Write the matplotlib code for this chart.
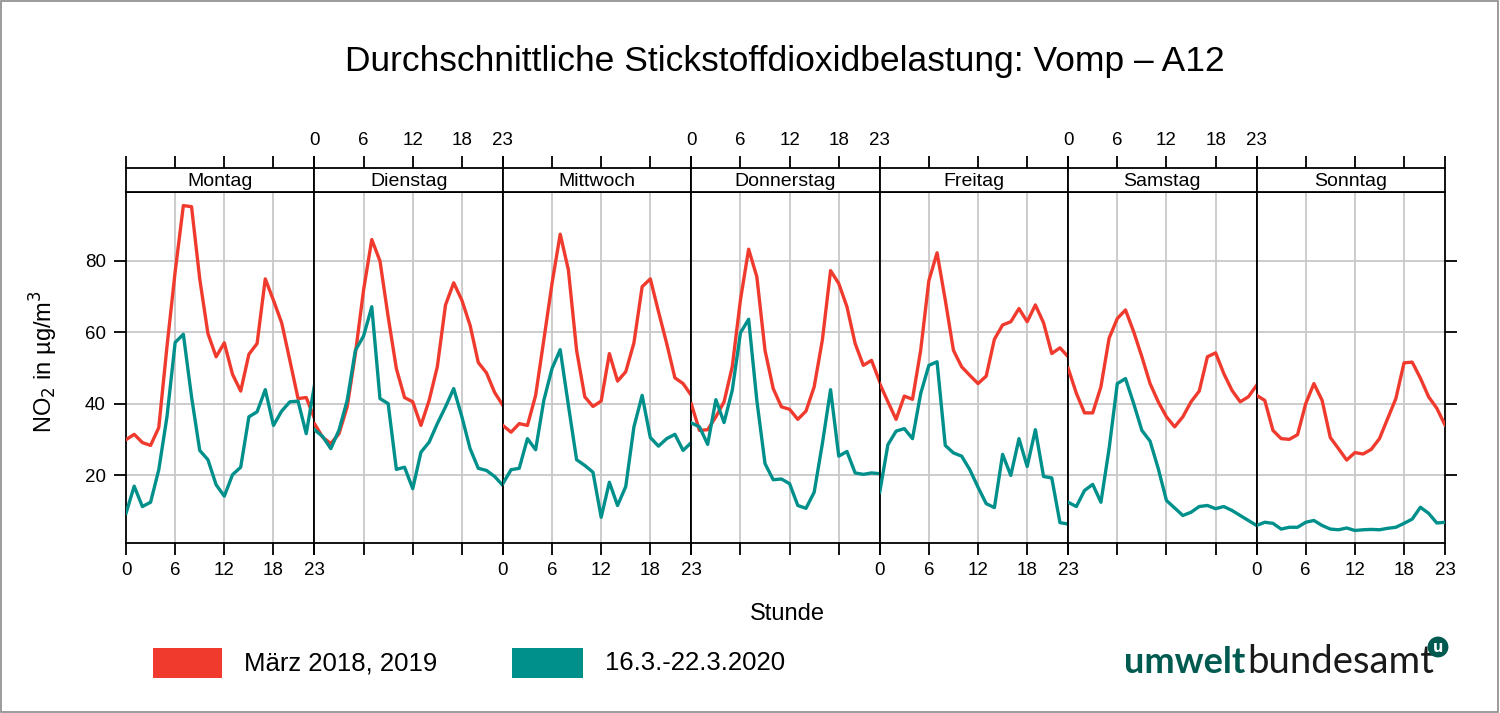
import matplotlib
matplotlib.use('Agg')
import matplotlib.pyplot as plt
from matplotlib.patches import Rectangle

plt.rcParams['font.family'] = ['Liberation Sans', 'DejaVu Sans']

tage = ['Montag', 'Dienstag', 'Mittwoch', 'Donnerstag', 'Freitag', 'Samstag', 'Sonntag']
stunden = list(range(24))
xticks = [0, 6, 12, 18, 23]
yticks = [20, 40, 60, 80]

# NO2 Stundenmittel je Wochentag
maerz_2018_2019 = [
    [30, 31.5, 29.2, 28.4, 33.4, 56, 77, 95.5, 95.2, 75, 59.7, 53.2, 57.1, 48.3, 43.6, 53.9, 56.9, 75, 69, 62.7, 52.2, 41.5, 41.8, 36],
    [34.5, 30.7, 28.9, 31.7, 39.2, 54.1, 71.9, 86, 80, 64.4, 49.9, 41.8, 40.6, 34, 41, 50.4, 67.7, 73.9, 69, 62, 51.6, 48.7, 43.2, 39.6],
    [34, 32.1, 34.5, 34, 42.4, 57.9, 73.7, 87.5, 77.5, 55, 42, 39.3, 40.8, 54.1, 46.4, 49, 57.1, 72.8, 75, 65.8, 56.9, 47.3, 45.7, 42.4],
    [40, 32.6, 32.8, 36.4, 40.6, 50.4, 69.1, 83.3, 75.6, 55, 44.3, 39.2, 38.5, 35.7, 38, 44.8, 57.9, 77.3, 73.7, 67.2, 56.9, 50.8, 52.2, 46.2],
    [45.7, 40.6, 35.7, 42.2, 41.3, 55, 74.5, 82.3, 69.1, 55, 50.4, 48, 45.7, 47.8, 58.1, 62.1, 63, 66.7, 63, 67.7, 62.7, 54.1, 55.7, 53.2],
    [50, 43, 37.5, 37.5, 44.8, 58.4, 63.9, 66.3, 60.2, 53.2, 45.7, 40.6, 36.4, 33.6, 36.4, 40.6, 43.6, 53.2, 54.3, 48.5, 43.8, 40.6, 42, 45.2],
    [42.4, 41, 32.6, 30.3, 30.1, 31.4, 40.1, 45.7, 41, 30.6, 27.5, 24.3, 26.4, 26, 27.3, 30.3, 35.9, 41.5, 51.5, 51.7, 47.2, 42, 38.8, 34.1],
]

woche_2020 = [
    [9.4, 17, 11.3, 12.5, 21.6, 36.4, 57.2, 59.5, 42, 27, 24.4, 17.4, 14.2, 20.2, 22.3, 36.4, 37.8, 44, 34, 38, 40.6, 40.8, 31.7, 45.2],
    [32.8, 30.9, 27.5, 32.7, 41, 55, 59, 67.2, 41.5, 40.1, 21.7, 22.3, 16.3, 26.5, 29.3, 34.5, 39.2, 44.3, 36.4, 27.5, 22, 21.4, 19.7, 17.2],
    [17.7, 21.6, 22, 30.3, 27.2, 41, 49.9, 55.2, 39.6, 24.4, 22.8, 20.9, 8.3, 18.1, 11.6, 16.9, 33.6, 42.4, 30.6, 28.2, 30.3, 31.5, 27, 29.2],
    [34.7, 33.6, 28.7, 41.2, 34.8, 43.8, 59.9, 63.7, 41, 23.3, 18.8, 19, 17.7, 11.6, 10.8, 15.3, 28.9, 44, 25.4, 26.7, 20.7, 20.3, 20.7, 20.5],
    [15.3, 28.6, 32.4, 33.1, 30.3, 42.9, 50.8, 51.8, 28.4, 26.3, 25.4, 21.6, 16.7, 12.1, 11, 25.9, 20, 30.3, 22.5, 32.8, 19.7, 19.3, 6.8, 6.4],
    [12.5, 11.3, 15.8, 17.5, 12.5, 27.5, 45.7, 47.1, 40.1, 32.6, 29.6, 21.9, 13, 10.9, 8.8, 9.7, 11.3, 11.6, 10.7, 11.3, 10.2, 8.8, 7.4, 6],
    [6, 6.9, 6.6, 5, 5.5, 5.5, 6.9, 7.4, 6, 5, 4.8, 5.3, 4.6, 4.8, 4.9, 4.8, 5.2, 5.5, 6.6, 7.8, 11.1, 9.4, 6.7, 6.9],
]

ROT = '#ef3a2d'
TUERKIS = '#00908c'
GRID = '#c8c8c8'
LOGO = '#005a50'
W_PX, H_PX = 1500, 713


def fx(px):
    return px / W_PX


def fy(py):
    return 1 - py / H_PX


fig = plt.figure(figsize=(15, 7.13), dpi=100)

links, rechts = 126, 1445
breite = (rechts - links) / 7
unten, oben, strip_oben = 543, 192, 168

for i, tag in enumerate(tage):
    x0 = links + i * breite
    ax = fig.add_axes([fx(x0), fy(unten), breite / W_PX, (unten - oben) / H_PX])
    ax.set_xlim(0, 23)
    ax.set_ylim(1.1, 99.3)
    for v in [6, 12, 18]:
        ax.axvline(v, color=GRID, lw=1.3, zorder=1)
    for v in yticks:
        ax.axhline(v, color=GRID, lw=1.3, zorder=1)
    ax.plot(stunden, maerz_2018_2019[i], color=ROT, lw=2.4, zorder=3)
    ax.plot(stunden, woche_2020[i], color=TUERKIS, lw=2.4, zorder=3)
    for s in ax.spines.values():
        s.set_linewidth(1.3)
    ax.set_xticks(xticks)
    ax.tick_params(axis='x', direction='out', length=8.5, width=1.3, labelsize=13.5, pad=5)
    if i % 2 == 0:
        ax.set_xticklabels([str(t) for t in xticks])
    else:
        ax.set_xticklabels([])
    ax.set_yticks(yticks)
    if i == 0:
        ax.tick_params(axis='y', direction='out', length=8.5, width=1.3, labelsize=13.5, pad=6)
    elif i == 6:
        ax.yaxis.tick_right()
        ax.tick_params(axis='y', direction='out', length=8.5, width=1.3, labelright=False)
    else:
        ax.tick_params(axis='y', length=0, labelleft=False)

    # Streifen mit Wochentag
    st = fig.add_axes([fx(x0), fy(oben), breite / W_PX, (oben - strip_oben) / H_PX])
    st.set_xlim(0, 23)
    st.set_ylim(0, 1)
    st.set_yticks([])
    for s in st.spines.values():
        s.set_linewidth(1.3)
    st.text(11.5, 0.45, tag, ha='center', va='center', fontsize=14)
    st.xaxis.tick_top()
    st.set_xticks(xticks)
    st.tick_params(axis='x', direction='out', length=8.5, width=1.3, labelsize=13.5, pad=5)
    if i % 2 == 1:
        st.set_xticklabels([str(t) for t in xticks])
    else:
        st.set_xticklabels([])

fig.text(fx(785), fy(61), 'Durchschnittliche Stickstoffdioxidbelastung: Vomp \u2013 A12',
         ha='center', va='center', fontsize=25.5)
fig.text(fx(787), fy(614), 'Stunde', ha='center', va='center', fontsize=17)
fig.text(fx(44), fy(362), r'NO$_2$ in µg/m$^3$', ha='center', va='center', fontsize=17, rotation=90)

# Legende
fig.patches.append(Rectangle((fx(153), fy(678)), 69 / W_PX, 30 / H_PX, transform=fig.transFigure,
                             facecolor=ROT, edgecolor='none'))
fig.text(fx(244), fy(663), 'März 2018, 2019', ha='left', va='center', fontsize=18.5)
fig.patches.append(Rectangle((fx(512), fy(678)), 71 / W_PX, 30 / H_PX, transform=fig.transFigure,
                             facecolor=TUERKIS, edgecolor='none'))
fig.text(fx(605), fy(663), '16.3.-22.3.2020', ha='left', va='center', fontsize=18.5)

# Logo
fig.text(fx(1245), fy(673), 'umwelt', ha='right', va='baseline', fontsize=26,
         fontweight='bold', color=LOGO, family='Lato')
fig.text(fx(1247), fy(673), 'bundesamt', ha='left', va='baseline', fontsize=27.5,
         color='#1a1a1a', family='Lato')
fig.text(fx(1438), fy(647), 'u', ha='center', va='center', fontsize=10.5, color='white',
         fontweight='bold', family='DejaVu Sans',
         bbox=dict(boxstyle='circle,pad=0.2', facecolor=LOGO, edgecolor='none'))

# grauer Rahmen
fig.patches.append(Rectangle((0.0005, 0.001), 0.998, 0.997, transform=fig.transFigure,
                             facecolor='none', edgecolor='#8a8a8a', lw=1.2))

fig.savefig('out.png', dpi=100)
